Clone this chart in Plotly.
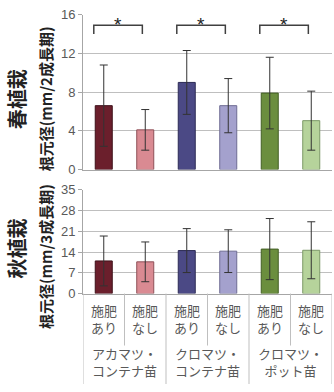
import plotly.graph_objects as go

# ---- data ----
sub_labels = ["施肥<br>あり", "施肥<br>なし", "施肥<br>あり", "施肥<br>なし", "施肥<br>あり", "施肥<br>なし"]
group_labels = ["アカマツ・<br>コンテナ苗", "クロマツ・<br>コンテナ苗", "クロマツ・<br>ポット苗"]
spring_mean = [6.6, 4.1, 9.0, 6.6, 7.9, 5.05]
spring_sd = [4.2, 2.1, 3.3, 2.8, 3.7, 3.05]
autumn_mean = [11.0, 10.7, 14.5, 14.3, 15.0, 14.6]
autumn_sd = [8.4, 6.7, 7.4, 7.2, 10.3, 9.6]
spring_ticks = [0, 4, 8, 12, 16]
autumn_ticks = [0, 7, 14, 21, 28, 35]
sig_pairs = [(0, 1), (2, 3), (4, 5)]

bar_colors = ["#6B1F2C", "#D98A92", "#4B4985", "#A4A1CD", "#6B8E3E", "#B6D39B"]
bar_lines = ["#3E1019", "#8E5058", "#2C2B55", "#6E6C93", "#435F24", "#7C9867"]

W, H = 334, 392
ML, MR = 83, 2
xs = list(range(len(sub_labels)))

def py(px):
    return 1 - px / H

fig = go.Figure()
fig.add_trace(go.Bar(x=xs, y=spring_mean, xaxis="x", yaxis="y", width=0.41,
                     marker=dict(color=bar_colors, line=dict(color=bar_lines, width=1)),
                     error_y=dict(type="data", array=spring_sd, visible=True,
                                  color="#333333", thickness=1, width=4),
                     showlegend=False, hoverinfo="skip"))
fig.add_trace(go.Bar(x=xs, y=autumn_mean, xaxis="x2", yaxis="y2", width=0.41,
                     marker=dict(color=bar_colors, line=dict(color=bar_lines, width=1)),
                     error_y=dict(type="data", array=autumn_sd, visible=True,
                                  color="#333333", thickness=1, width=4),
                     showlegend=False, hoverinfo="skip"))

tickfont = dict(family="Liberation Sans, Arial, sans-serif", size=13, color="#595959")
common_y = dict(showgrid=True, gridcolor="#BFBFBF", gridwidth=1, zeroline=False,
                showline=True, linecolor="#A6A6A6", linewidth=1,
                ticks="outside", ticklen=4, tickcolor="#A6A6A6",
                tickfont=tickfont, fixedrange=True)
common_x = dict(range=[-0.5, 5.5], showticklabels=False, showgrid=False, zeroline=False,
                showline=True, linecolor="#A6A6A6", linewidth=1, ticks="", fixedrange=True)

fig.update_layout(
    width=W, height=H,
    margin=dict(l=ML, r=MR, t=0, b=0),
    paper_bgcolor="white", plot_bgcolor="white",
    xaxis=dict(domain=[0, 1], anchor="y", **common_x),
    yaxis=dict(domain=[py(169), py(8)], range=[0, 16], tickvals=spring_ticks, anchor="x", **common_y),
    xaxis2=dict(domain=[0, 1], anchor="y2", **common_x),
    yaxis2=dict(domain=[py(298), py(190)], range=[0, 35], tickvals=autumn_ticks, anchor="x2", **common_y),
    bargap=0.59,
)

# significance brackets
shapes = []
annotations = []
for a, b in sig_pairs:
    x0, x1 = a - 0.24, b - 0.07
    shapes.append(dict(type="path", xref="x", yref="y",
                       path=f"M {x0},14.0 L {x0},14.9 L {x1},14.9 L {x1},14.0",
                       line=dict(color="#404040", width=1.5)))
    annotations.append(dict(x=(x0 + x1) / 2, y=14.9, xref="x", yref="y", text="*",
                            showarrow=False, xanchor="center", yanchor="bottom", yshift=-12,
                            font=dict(family="Liberation Sans, Arial, sans-serif", size=19, color="#222222")))

# category axis dividers (bottom chart)
for i in range(7):
    xpos = i - 0.5
    full = (i % 2 == 0)
    shapes.append(dict(type="line", xref="x2", yref="paper", x0=xpos, x1=xpos,
                       y0=py(298), y1=(py(392) if full else py(352)),
                       line=dict(color="#BFBFBF", width=1)))

labfont = dict(family="Noto Sans CJK JP, sans-serif", size=13, color="#595959")
for i, lab in enumerate(sub_labels):
    annotations.append(dict(x=i, y=py(324), xref="x2", yref="paper", text=lab,
                            showarrow=False, font=labfont, xanchor="center", yanchor="middle"))
for g, lab in enumerate(group_labels):
    annotations.append(dict(x=2 * g + 0.5, y=py(369), xref="x2", yref="paper", text=lab,
                            showarrow=False, font=labfont, xanchor="center", yanchor="middle"))

pw = W - ML - MR
def pxx(px):
    return (px - ML) / pw

titlefont = dict(family="Noto Sans CJK JP, sans-serif", size=15, color="#222222")
bigfont = dict(family="Noto Sans CJK JP, sans-serif", size=20, color="#222222")
annotations += [
    dict(x=pxx(45), y=py(96), xref="paper", yref="paper", text="<b>根元径(mm/2成長期)</b>",
         textangle=-90, showarrow=False, font=titlefont, xanchor="center", yanchor="middle"),
    dict(x=pxx(45), y=py(260), xref="paper", yref="paper", text="<b>根元径(mm/3成長期)</b>",
         textangle=-90, showarrow=False, font=titlefont, xanchor="center", yanchor="middle"),
    dict(x=pxx(16), y=py(96), xref="paper", yref="paper", text="<b>春植栽</b>",
         textangle=-90, showarrow=False, font=bigfont, xanchor="center", yanchor="middle"),
    dict(x=pxx(16), y=py(251), xref="paper", yref="paper", text="<b>秋植栽</b>",
         textangle=-90, showarrow=False, font=bigfont, xanchor="center", yanchor="middle"),
]

fig.update_layout(shapes=shapes, annotations=annotations)
fig.write_html("out.html")
